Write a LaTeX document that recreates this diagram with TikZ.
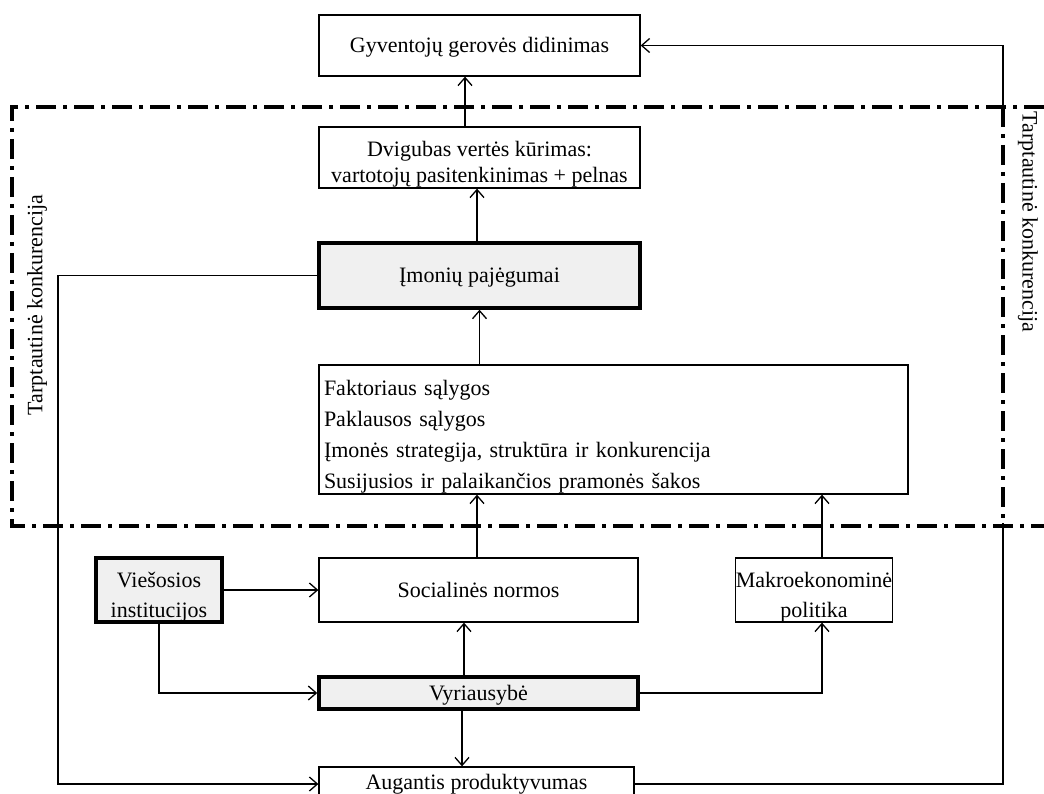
\documentclass[tikz,border=0pt]{standalone}
\usepackage{fontspec}
\setmainfont{Liberation Serif}
\usetikzlibrary{arrows.meta}
\definecolor{boxgray}{HTML}{F0F0F0}
\newcommand\mystrut{\rule{0pt}{29pt}}
\begin{document}
\begin{tikzpicture}[x=1pt,y=-1pt,
  box/.style={draw, line width=1.3pt, inner sep=0pt, align=center, font=\fontsize{22}{30}\selectfont},
  hbox/.style={box, line width=3.5pt, fill=boxgray},
  arr/.style={line width=1.3pt, -{Straight Barb[length=8pt,width=14pt,line width=1.3pt]}},
  dd/.style={line width=3.5pt, dash pattern=on 20pt off 7pt on 4pt off 7pt},
  lbl/.style={font=\fontsize{22}{26}\selectfont, inner sep=0pt}]
\fill[white] (0,0) rectangle (1044,794);
\useasboundingbox (0,0) rectangle (1044,794);

\node[box, minimum width=321pt, minimum height=61pt, text depth=1pt] (gyv) at (479.5,45.5) {Gyventojų gerovės didinimas};
\node[box, minimum width=321pt, minimum height=61pt, font=\fontsize{22}{26}\selectfont] (dvi) at (479.5,157.5) {\mystrut Dvigubas vertės kūrimas:\\vartotojų pasitenkinimas + pelnas};
\node[hbox, minimum width=321pt, minimum height=65pt, text depth=1pt] (imo) at (479.5,275.5) {Įmonių pajėgumai};
\node[box, minimum width=589pt, minimum height=129pt, text width=579pt, align=left, inner xsep=5pt, font=\fontsize{22}{31}\selectfont] (fak) at (613.5,429.5) {\mystrut Faktoriaus sąlygos\\Paklausos sąlygos\\Įmonės strategija, struktūra ir konkurencija\\Susijusios ir palaikančios pramonės šakos};
\node[box, minimum width=319pt, minimum height=64pt] (soc) at (478.5,590) {Socialinės normos};
\node[box, minimum width=156pt, minimum height=64pt] (mak) at (814,590) {\mystrut Makroekonominė\\politika};
\node[hbox, minimum width=126pt, minimum height=64pt] (vie) at (159,590) {\mystrut Viešosios\\institucijos};
\node[hbox, minimum width=319pt, minimum height=32pt, text depth=0pt] (vyr) at (478.5,693) {Vyriausybė};
\node[box, minimum width=315pt, minimum height=34pt] (aug) at (476.5,784) {Augantis produktyvumas};

\coordinate (L) at (58,0);
\coordinate (R) at (1003,0);

\draw[arr] ([xshift=-14.5pt]dvi.north) -- ([xshift=-14.5pt]gyv.south);
\draw[arr] ([xshift=-2.5pt]imo.north) -- ([xshift=-2.5pt]dvi.south);
\draw[arr] (imo.south |- fak.north) -- (imo.south);
\draw[arr] ([xshift=-1.5pt]soc.north) -- ([xshift=-1.5pt]soc.north |- fak.south);
\draw[arr] ([xshift=8pt]mak.north) -- ([xshift=8pt]mak.north |- fak.south);
\draw[arr] (vie.east) -- (soc.west);
\draw[arr] (vie.south) -- (vie.south |- vyr.west) -- (vyr.west);
\draw[arr] ([xshift=-14.5pt]vyr.north) -- ([xshift=-14.5pt]soc.south);
\draw[arr] (vyr.east) -- ([xshift=8pt]mak.south |- vyr.east) -- ([xshift=8pt]mak.south);
\draw[arr] ([xshift=-16.5pt]vyr.south) -- ([xshift=-16.5pt]vyr.south |- aug.north);
\draw[arr] (imo.west) -- (imo.west -| L) -- (L |- aug.west) -- (aug.west);
\draw[arr] (aug.east) -- (aug.east -| R) -- (R |- gyv.east) -- (gyv.east);

\draw[white, line width=4pt] (1003,110) -- (1003,523);
\draw[dd] (1044,107) -- (12,107) -- (12,526) -- (1044,526);
\draw[dd] (1003,107) -- (1003,526);

\node[lbl, rotate=90] (tl) at (37,305) {Tarptautinė konkurencija};
\node[lbl, rotate=-90] (tr) at (1028,222) {Tarptautinė konkurencija};
\end{tikzpicture}
\end{document}
